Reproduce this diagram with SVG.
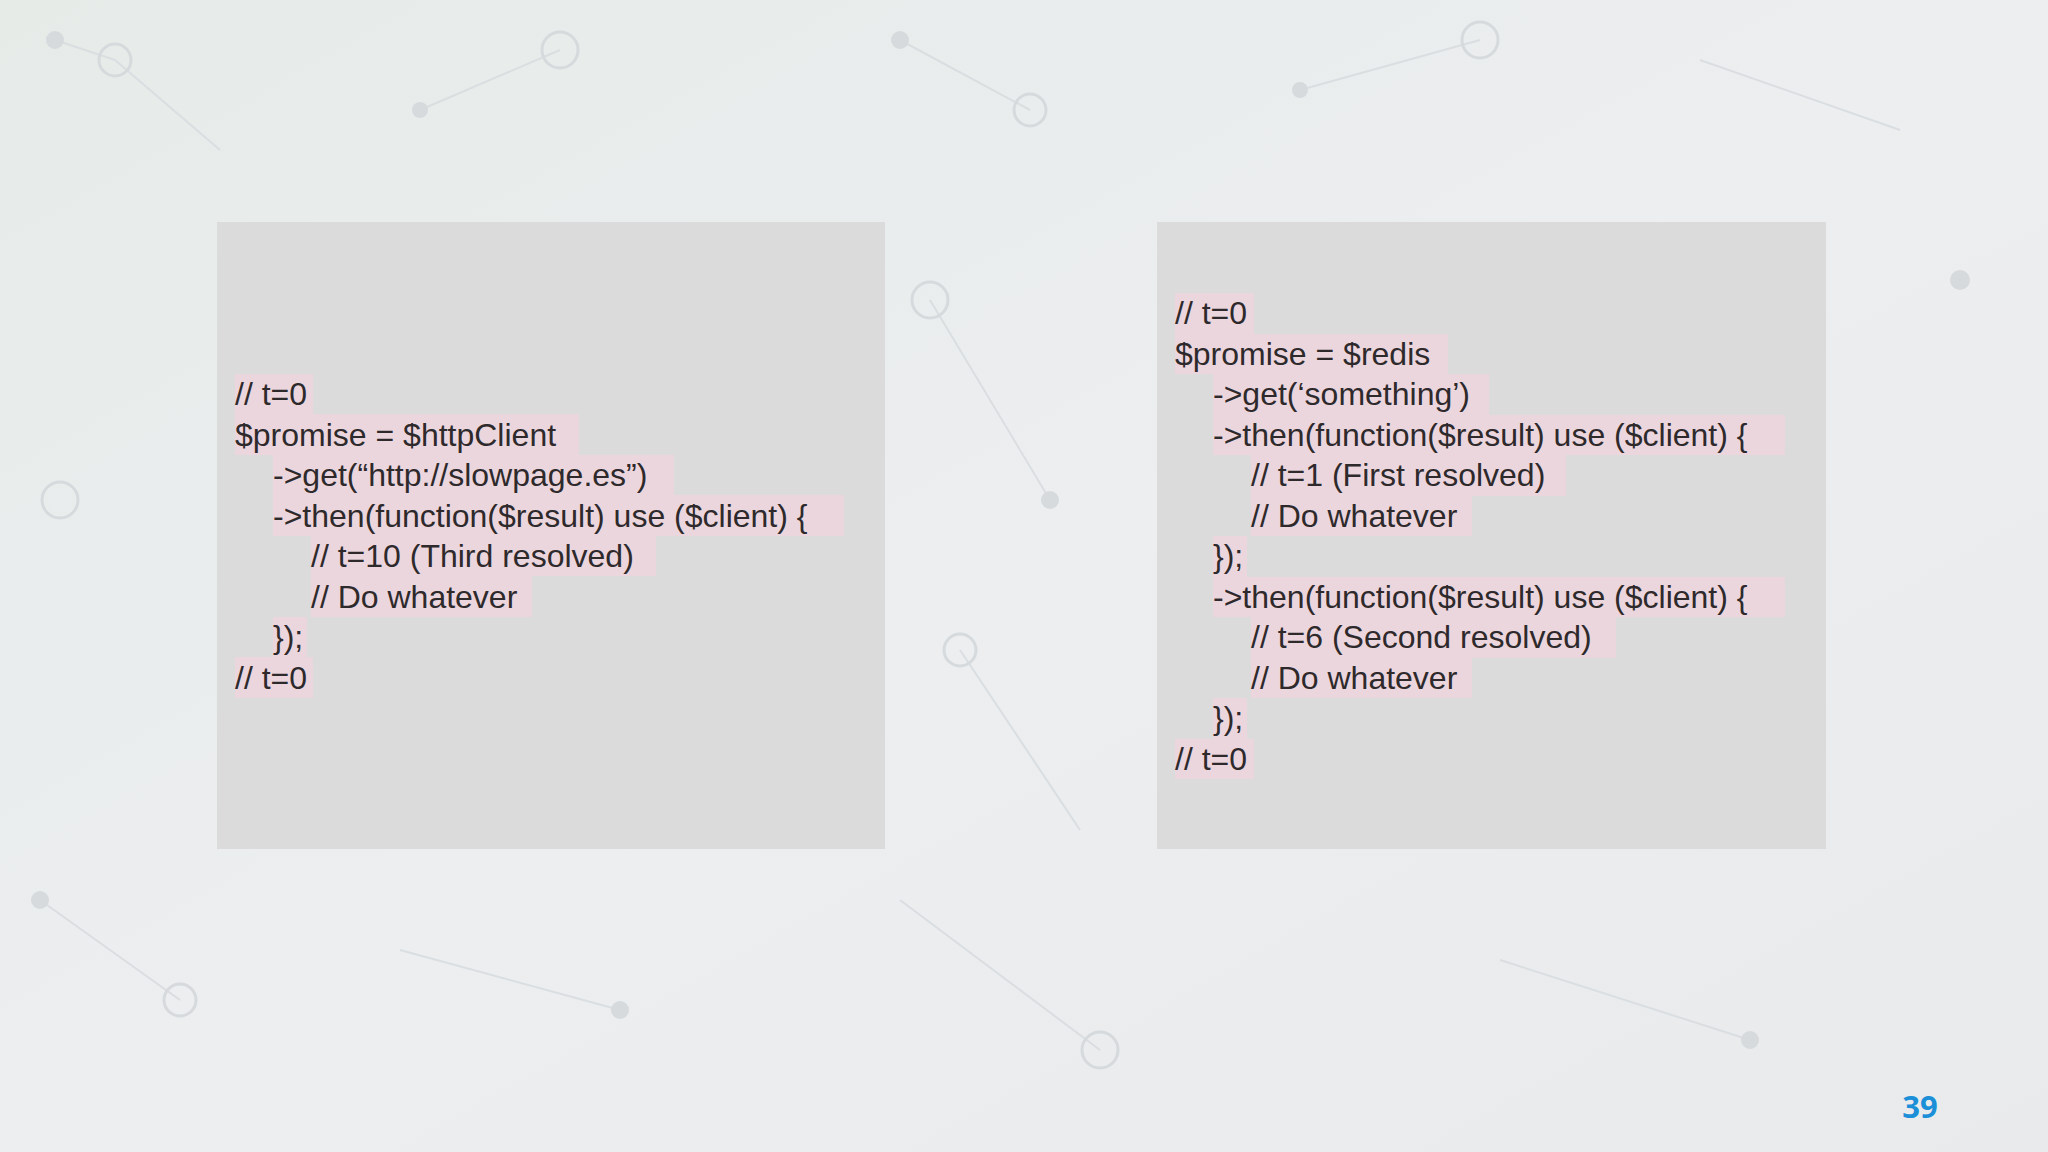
<svg xmlns="http://www.w3.org/2000/svg" width="2048" height="1152" viewBox="0 0 2048 1152">
<defs>
<linearGradient id="bg" x1="0" y1="0" x2="1" y2="1">
<stop offset="0" stop-color="#e6ebe8"/><stop offset="0.5" stop-color="#eceef0"/><stop offset="1" stop-color="#e8eaec"/>
</linearGradient>
</defs>
<style>
.box{fill:#dcdbdc}
.hl{fill:#ecd6de}
.code{font-family:"Liberation Sans",Arial,sans-serif;font-size:32px;fill:#2e2a2c}
.dot{fill:#d6dadd}
.ring{fill:none;stroke:#d6dadd;stroke-width:3}
.ln{stroke:#dadee1;stroke-width:2}
</style>
<rect width="2048" height="1152" fill="url(#bg)"/>
<g id="pattern">
<line class="ln" x1="55" y1="40" x2="115" y2="60"/><line class="ln" x1="115" y1="60" x2="220" y2="150"/>
<line class="ln" x1="420" y1="110" x2="560" y2="50"/><line class="ln" x1="900" y1="40" x2="1030" y2="110"/>
<line class="ln" x1="1300" y1="90" x2="1480" y2="40"/><line class="ln" x1="1700" y1="60" x2="1900" y2="130"/>
<line class="ln" x1="40" y1="900" x2="180" y2="1000"/><line class="ln" x1="400" y1="950" x2="620" y2="1010"/>
<line class="ln" x1="900" y1="900" x2="1100" y2="1050"/><line class="ln" x1="1500" y1="960" x2="1750" y2="1040"/>
<line class="ln" x1="930" y1="300" x2="1050" y2="500"/><line class="ln" x1="960" y1="650" x2="1080" y2="830"/>
<circle class="dot" cx="55" cy="40" r="9"/><circle class="ring" cx="115" cy="60" r="16"/>
<circle class="dot" cx="420" cy="110" r="8"/><circle class="ring" cx="560" cy="50" r="18"/>
<circle class="dot" cx="900" cy="40" r="9"/><circle class="ring" cx="1030" cy="110" r="16"/>
<circle class="dot" cx="1300" cy="90" r="8"/><circle class="ring" cx="1480" cy="40" r="18"/>
<circle class="dot" cx="40" cy="900" r="9"/><circle class="ring" cx="180" cy="1000" r="16"/>
<circle class="dot" cx="620" cy="1010" r="9"/><circle class="ring" cx="1100" cy="1050" r="18"/>
<circle class="dot" cx="1750" cy="1040" r="9"/><circle class="ring" cx="960" cy="650" r="16"/>
<circle class="dot" cx="1050" cy="500" r="9"/><circle class="ring" cx="930" cy="300" r="18"/>
<circle class="dot" cx="1960" cy="280" r="10"/><circle class="ring" cx="60" cy="500" r="18"/>
</g>
<g id="left-box">
<rect class="box" x="217" y="222" width="668" height="627"/>
<rect class="hl" x="235" y="374" width="78" height="40"/>
<rect class="hl" x="235" y="414" width="344" height="41"/>
<rect class="hl" x="273" y="455" width="401" height="40"/>
<rect class="hl" x="273" y="495" width="571" height="41"/>
<rect class="hl" x="311" y="536" width="345" height="40"/>
<rect class="hl" x="311" y="576" width="221" height="41"/>
<rect class="hl" x="273" y="617" width="34" height="40"/>
<rect class="hl" x="235" y="657" width="78" height="41"/>
<text class="code" x="235" y="405">// t=0</text>
<text class="code" x="235" y="446">$promise = $httpClient</text>
<text class="code" x="273" y="486">-&gt;get(“http://slowpage.es”)</text>
<text class="code" x="273" y="527">-&gt;then(function($result) use ($client) {</text>
<text class="code" x="311" y="567">// t=10 (Third resolved)</text>
<text class="code" x="311" y="608">// Do whatever</text>
<text class="code" x="273" y="648">});</text>
<text class="code" x="235" y="689">// t=0</text>
</g>
<g id="right-box">
<rect class="box" x="1157" y="222" width="669" height="627"/>
<rect class="hl" x="1175" y="293" width="79" height="41"/>
<rect class="hl" x="1175" y="334" width="273" height="40"/>
<rect class="hl" x="1213" y="374" width="276" height="41"/>
<rect class="hl" x="1213" y="415" width="572" height="40"/>
<rect class="hl" x="1251" y="455" width="315" height="41"/>
<rect class="hl" x="1251" y="496" width="221" height="40"/>
<rect class="hl" x="1213" y="536" width="34" height="41"/>
<rect class="hl" x="1213" y="577" width="572" height="40"/>
<rect class="hl" x="1251" y="617" width="365" height="41"/>
<rect class="hl" x="1251" y="658" width="221" height="40"/>
<rect class="hl" x="1213" y="698" width="34" height="41"/>
<rect class="hl" x="1175" y="739" width="79" height="40"/>
<text class="code" x="1175" y="324">// t=0</text>
<text class="code" x="1175" y="365">$promise = $redis</text>
<text class="code" x="1213" y="405">-&gt;get(‘something’)</text>
<text class="code" x="1213" y="446">-&gt;then(function($result) use ($client) {</text>
<text class="code" x="1251" y="486">// t=1 (First resolved)</text>
<text class="code" x="1251" y="527">// Do whatever</text>
<text class="code" x="1213" y="567">});</text>
<text class="code" x="1213" y="608">-&gt;then(function($result) use ($client) {</text>
<text class="code" x="1251" y="648">// t=6 (Second resolved)</text>
<text class="code" x="1251" y="689">// Do whatever</text>
<text class="code" x="1213" y="729">});</text>
<text class="code" x="1175" y="770">// t=0</text>
</g>
<text x="1920" y="1118" text-anchor="middle" font-family="'Open Sans','Liberation Sans',sans-serif" font-weight="bold" font-size="31" fill="#1b8fd8">39</text>
</svg>
